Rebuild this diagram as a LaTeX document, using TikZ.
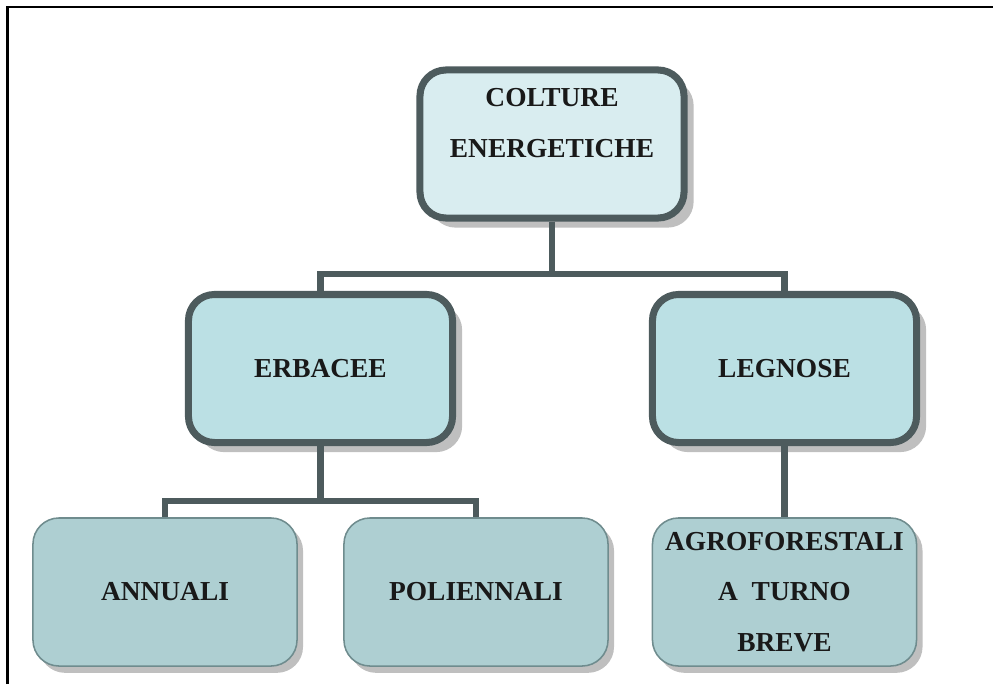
\documentclass[tikz,border=0pt]{standalone}
\usepackage{fontspec}
\setmainfont{Liberation Serif}
\usepackage{tikz}
\usetikzlibrary{shadows, positioning}
\definecolor{linegray}{HTML}{4D5B5D}
\definecolor{rootfill}{HTML}{D9EDF0}
\definecolor{midfill}{HTML}{BBE0E4}
\definecolor{leaffill}{HTML}{AECFD2}
\definecolor{leafdraw}{HTML}{6F8C8E}
\tikzset{
  boxfont/.style={
    font=\fontsize{19.5}{36}\selectfont\bfseries,
    text=black!90,
    align=center
  },
  thickbox/.style={
    rectangle,
    draw=linegray,
    line width=5pt,
    rounded corners=0.65cm,
    minimum width=6.6cm,
    minimum height=3.7cm,
    inner sep=2pt,
    boxfont,
    drop shadow={shadow xshift=0.24cm, shadow yshift=-0.24cm, fill=black!25, opacity=1}
  },
  rootbox/.style={thickbox, fill=rootfill},
  midbox/.style={thickbox, fill=midfill},
  leafbox/.style={
    rectangle,
    draw=leafdraw,
    line width=1.1pt,
    fill=leaffill,
    rounded corners=0.65cm,
    minimum width=6.6cm,
    minimum height=3.7cm,
    inner sep=2pt,
    boxfont,
    drop shadow={shadow xshift=0.15cm, shadow yshift=-0.17cm, fill=black!25, opacity=1}
  },
  conn/.style={
    draw=linegray,
    line width=4.3pt
  }
}

\begin{document}
\begin{tikzpicture}[x=0.025cm, y=-0.025cm]
  \useasboundingbox (0,0) rectangle (993,684);
  \draw[line width=1.5pt] (7.5,684) -- (7.5,7) -- (993,7);

  \node[rootbox, label={[boxfont, yshift=0.52cm]center:COLTURE\\ENERGETICHE}] (colture) at (552,144) {};

  \node[midbox] (erbacee) at (320.5,368.5) {ERBACEE};
  \node[midbox] (legnose) at (784.5,368.5) {LEGNOSE};

  \node[leafbox] (annuali) at (165,592) {ANNUALI};
  \node[leafbox] (poliennali) at (476,592) {POLIENNALI};
  \node[leafbox] (agro) at (784.5,592) {AGROFORESTALI\\A~~TURNO\\BREVE};

  \draw[conn] (colture.south) -- ++(0,52) -| (erbacee.north);
  \draw[conn] (colture.south) -- ++(0,52) -| (legnose.north);
  \draw[conn] (erbacee.south) -- ++(0,55) -| (annuali.north);
  \draw[conn] (erbacee.south) -- ++(0,55) -| (poliennali.north);
  \draw[conn] (legnose.south) -- (agro.north);
\end{tikzpicture}
\end{document}
